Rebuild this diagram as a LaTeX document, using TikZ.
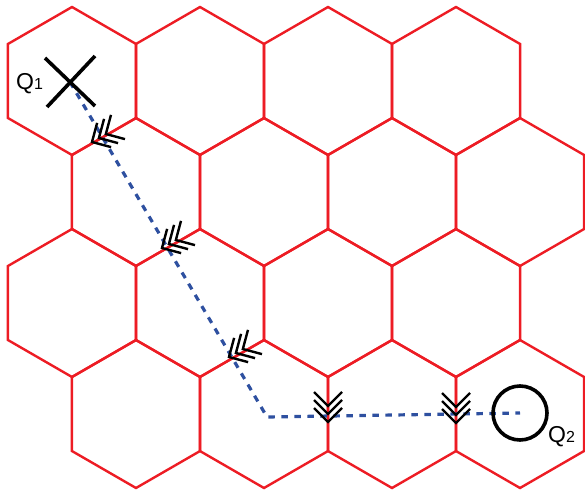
\documentclass[tikz,border=0pt]{standalone}
\usepackage{fontspec}
\setmainfont{Liberation Sans}
\definecolor{hexred}{RGB}{237,28,36}
\definecolor{pathblue}{RGB}{46,80,160}
\begin{document}
\begin{tikzpicture}[x=1pt,y=-1pt,
  hexcell/.style={draw=hexred,line width=2.4pt,line join=miter},
  route/.style={draw=pathblue,line width=3.2pt,dash pattern=on 6.5pt off 6.5pt},
  chev/.style={draw=black,line width=2.4pt,line join=miter},
  qmark/.style={draw=black,line width=3.6pt},
  lbl/.style={inner sep=0pt,anchor=base west,font=\fontsize{23}{23}\selectfont},
  tri/.pic={\foreach \d in {0,8,16} \draw[chev] ({-\d-14},14) -- ({-\d},0) -- ({-\d-14},-14);}
]
\useasboundingbox (0,0) rectangle (585,489);
% hexagonal grid
\foreach \cx/\cy in {72/81,200/81,328/81,456/81,
                     136/192,264/192,392/192,520/192,
                     72/303,200/303,328/303,456/303,
                     136/414,264/414,392/414,520/414}
  \draw[hexcell] (\cx,\cy) +(30:74) -- +(90:74) -- +(150:74) -- +(210:74) -- +(270:74) -- +(330:74) -- cycle;
% key points
\coordinate (q1) at (70,82);
\coordinate (corner) at (267,417);
\coordinate (q2) at (520,413);
% route
\draw[route] (q1) -- (corner) -- (q2);
% chevron markers
\pic[rotate=210] at (92,142) {tri};
\pic[rotate=210] at (162,248) {tri};
\pic[rotate=210] at (229,357) {tri};
\pic[rotate=-90] at (328,422) {tri};
\pic[rotate=-90] at (456,423) {tri};
% Q1 cross
\coordinate (c1a) at (45,58);
\coordinate (c1b) at (95,106);
\coordinate (c2a) at (95,56);
\coordinate (c2b) at (47,107);
\draw[qmark] (c1a) -- (c1b);
\draw[qmark] (c2a) -- (c2b);
% Q2 circle
\draw[qmark] (q2) circle[radius=27];
% labels
\node[lbl] (l1) at (16,90) {Q{\fontsize{16}{16}\selectfont 1}};
\node[lbl] (l2) at (548,442) {Q{\fontsize{16}{16}\selectfont 2}};
\end{tikzpicture}
\end{document}
